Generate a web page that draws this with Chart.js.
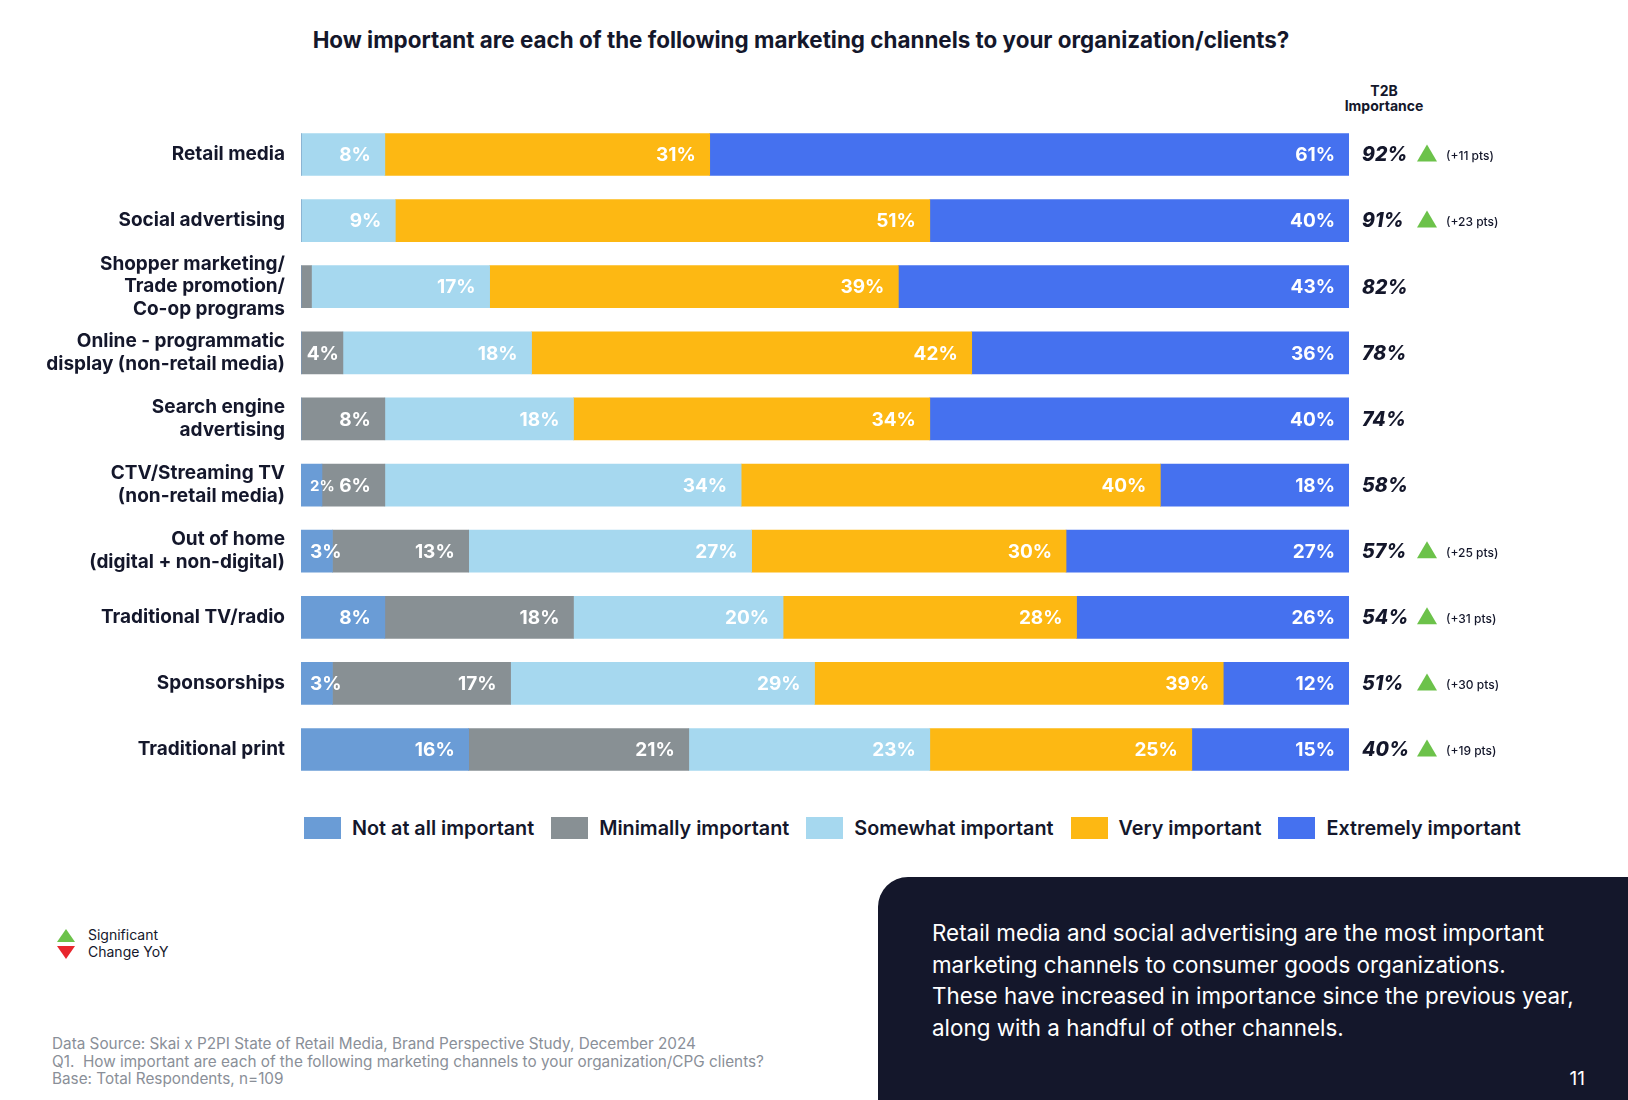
<!DOCTYPE html>
<html>
<head>
<meta charset="utf-8">
<script src="https://cdn.jsdelivr.net/npm/chart.js@4.4.1/dist/chart.umd.min.js"></script>
<style>
  body { margin: 0; width: 1628px; height: 1100px; background: #fff; font-family: Inter, "Open Sans", sans-serif; position: relative; overflow: hidden; color: #14172b; }
  #title { position: absolute; top: 26px; left: 0; width: 1602px; text-align: center; font-size: 22.4px; font-weight: 700; }
  #t2b { position: absolute; top: 83px; left: 1334px; width: 100px; text-align: center; font-size: 14px; font-weight: 700; line-height: 15px; }
  #wrap { position: absolute; left: 0; top: 102px; width: 1628px; height: 700px; }
  #legend { position: absolute; top: 816px; left: 304px; display: flex; font-size: 19.8px; font-weight: 600; }
  #legend div { display: flex; align-items: center; margin-right: 17px; }
  #legend span { display: inline-block; width: 37px; height: 22px; margin-right: 11px; }
  #sig { position: absolute; left: 56px; top: 926px; font-size: 14px; line-height: 17px; }
  #note { position: absolute; left: 52px; top: 1035px; font-size: 15.3px; color: #8a8f98; line-height: 17.5px; }
  #box { position: absolute; left: 878px; top: 877px; width: 750px; height: 223px; background: #14172b; border-top-left-radius: 30px; color: #fff; }
  #box p { margin: 40px 0 0 54px; font-size: 22.4px; line-height: 31.7px; width: 645px; }
  #pg { position: absolute; right: 43px; bottom: 10px; font-size: 19px; }
</style>
</head>
<body>
<div id="title">How important are each of the following marketing channels to your organization/clients?</div>
<div id="t2b">T2B<br>Importance</div>
<div id="wrap"><canvas id="c"></canvas></div>
<div id="legend"></div>
<div id="sig">
  <svg width="22" height="38" style="position:absolute;left:0;top:1px"><polygon points="10,2 19,15 1,15" fill="#6cc24a"/><polygon points="1,19 19,19 10,32" fill="#e8262d"/></svg>
  <div style="margin-left:32px">Significant<br>Change YoY</div>
</div>
<div id="note">Data Source: Skai x P2PI State of Retail Media, Brand Perspective Study, December 2024<br>Q1.&nbsp; How important are each of the following marketing channels to your organization/CPG clients?<br>Base: Total Respondents, n=109</div>
<div id="box"><p>Retail media and social advertising are the most important marketing channels to consumer goods organizations. These have increased in importance since the previous year, along with a handful of other channels.</p><div id="pg">11</div></div>
<script>
const channels = [
  ['Retail media'],
  ['Social advertising'],
  ['Shopper marketing/', 'Trade promotion/', 'Co-op programs'],
  ['Online - programmatic', 'display (non-retail media)'],
  ['Search engine', 'advertising'],
  ['CTV/Streaming TV', '(non-retail media)'],
  ['Out of home', '(digital + non-digital)'],
  ['Traditional TV/radio'],
  ['Sponsorships'],
  ['Traditional print']
];
const seriesNames = ['Not at all important', 'Minimally important', 'Somewhat important', 'Very important', 'Extremely important'];
const seriesColors = ['#6a9cd6', '#889094', '#a6d8ef', '#fdb813', '#4571ef'];
const notAtAll = [0, 0, 0, 0, 0, 2, 3, 8, 3, 16];
const minimally = [0, 0, 1, 4, 8, 6, 13, 18, 17, 21];
const somewhat = [8, 9, 17, 18, 18, 34, 27, 20, 29, 23];
const very = [31, 51, 39, 42, 34, 40, 30, 28, 39, 25];
const extremely = [61, 40, 43, 36, 40, 18, 27, 26, 12, 15];
const t2b = [92, 91, 82, 78, 74, 58, 57, 54, 51, 40];
const yoyChange = ['+11', '+23', null, null, null, null, '+25', '+31', '+30', '+19'];

const seriesValues = [notAtAll, minimally, somewhat, very, extremely];

document.getElementById('legend').innerHTML = seriesNames.map((n, i) =>
  `<div><span style="background:${seriesColors[i]}"></span>${n}</div>`).join('');

const FONT = 'Inter, "Open Sans", sans-serif';

const labelPlugin = {
  id: 'labels',
  afterDatasetsDraw(chart) {
    const ctx = chart.ctx;
    ctx.save();
    ctx.textBaseline = 'middle';
    ctx.fillStyle = '#fff';
    chart.data.datasets.forEach((ds, di) => {
      chart.getDatasetMeta(di).data.forEach((bar, i) => {
        const v = ds.data[i];
        if (v < 2) return;
        const txt = v + '%';
        const segW = bar.x - bar.base;
        ctx.font = `700 ${v < 3 ? 15 : 19}px ${FONT}`;
        const w = ctx.measureText(txt).width;
        if (v < 3) {
          ctx.textAlign = 'left';
          ctx.fillText(txt, bar.base + 9, bar.y + 1);
        } else if (segW >= w + 24) {
          ctx.textAlign = 'right';
          ctx.fillText(txt, bar.x - 14, bar.y + 1);
        } else if (segW >= w + 6) {
          ctx.textAlign = 'right';
          ctx.fillText(txt, bar.x - 4, bar.y + 1);
        } else {
          ctx.textAlign = 'left';
          ctx.fillText(txt, bar.base + 9, bar.y + 1);
        }
      });
    });
    const meta = chart.getDatasetMeta(0);
    const x0 = chart.chartArea.right + 13;
    meta.data.forEach((bar, i) => {
      ctx.fillStyle = '#14172b';
      ctx.textAlign = 'left';
      ctx.font = `italic 800 19.5px ${FONT}`;
      ctx.fillText(t2b[i] + '%', x0, bar.y + 1);
      if (yoyChange[i]) {
        ctx.fillStyle = '#6cc24a';
        ctx.beginPath();
        ctx.moveTo(x0 + 65, bar.y - 10);
        ctx.lineTo(x0 + 75, bar.y + 7);
        ctx.lineTo(x0 + 55, bar.y + 7);
        ctx.closePath();
        ctx.fill();
        ctx.fillStyle = '#14172b';
        ctx.font = `500 12px ${FONT}`;
        ctx.fillText('(' + yoyChange[i] + ' pts)', x0 + 84, bar.y + 2);
      }
    });
    ctx.restore();
  }
};

new Chart(document.getElementById('c'), {
  type: 'bar',
  data: {
    labels: channels,
    datasets: seriesNames.map((n, i) => ({
      label: n,
      data: seriesValues[i],
      backgroundColor: seriesColors[i],
      barThickness: 42
    }))
  },
  options: {
    indexAxis: 'y',
    responsive: true,
    maintainAspectRatio: false,
    animation: false,
    layout: { padding: { left: 0, right: 279, top: 0, bottom: 0 } },
    plugins: { legend: { display: false }, tooltip: { enabled: false } },
    scales: {
      x: { stacked: true, min: 0, max: 100, display: false },
      y: {
        stacked: true,
        grid: { display: false },
        border: { display: false },
        afterFit(scale) { scale.width = 301; },
        ticks: { autoSkip: false, color: '#14172b', font: { family: FONT, size: 19, weight: '700' }, padding: 8, lineHeight: 1.15 }
      }
    }
  },
  plugins: [labelPlugin]
});
</script>
</body>
</html>
